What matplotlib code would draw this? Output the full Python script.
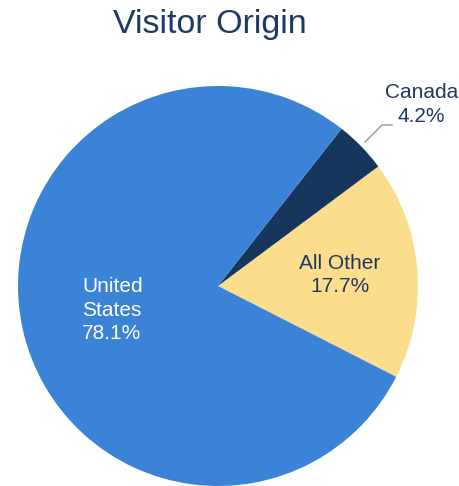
import matplotlib.pyplot as plt

labels = ["All Other", "Canada", "United States"]
shares = [17.7, 4.2, 78.1]
colors = ["#fcdd8c", "#17365d", "#3a83d6"]

plt.rcParams['font.family'] = ['Liberation Sans', 'DejaVu Sans']

fig = plt.figure(figsize=(4.6, 4.86), dpi=100)
fig.text(210 / 460, 1 - 33 / 486, "Visitor Origin", ha="center", va="baseline",
         fontsize=24.5, color="#1f3864")

# pie box: 400x400 px, centre at (218, 286) from top-left
ax = fig.add_axes([18 / 460, 0 / 486, 400 / 460, 400 / 486])
ax.pie(shares, colors=colors, startangle=-27, counterclock=True,
       radius=1, wedgeprops=dict(linewidth=0))
ax.set_xlim(-1, 1)
ax.set_ylim(-1, 1)
ax.set_aspect("auto")
ax.axis("off")

fs = 15
ls = 1.3
ax.text(-0.68, -0.12, "United\nStates\n%.1f%%" % shares[2], ha="left", va="center",
        fontsize=fs, color="white", linespacing=ls)
ax.text(0.61, 0.055, "All Other\n%.1f%%" % shares[0], ha="center", va="center",
        fontsize=fs, color="#1f3864", linespacing=ls)
ax.text(1.0175, 0.9075, "Canada\n%.1f%%" % shares[1], ha="center", va="center",
        fontsize=fs, color="#1f3864", linespacing=ls, clip_on=False)
ax.plot([0.735, 0.82, 0.87], [0.72, 0.805, 0.805], color="#a6a6a6", lw=1.2,
        clip_on=False)

plt.savefig("out.png", dpi=100)
